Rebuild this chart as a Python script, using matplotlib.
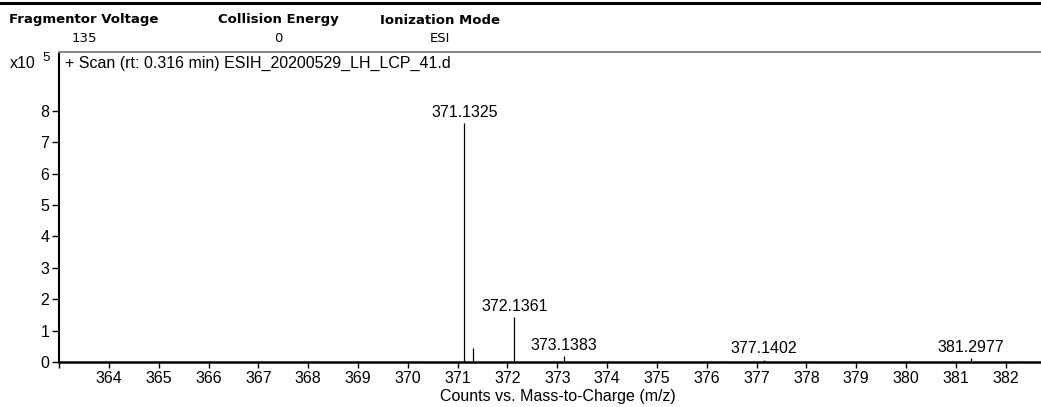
import matplotlib.pyplot as plt
from matplotlib.lines import Line2D

plt.rcParams['font.family'] = ['Liberation Sans', 'DejaVu Sans']

# scan header
header_names = ["Fragmentor Voltage", "Collision Energy", "Ionization Mode"]
header_values = ["135", "0", "ESI"]
scan_title = "+ Scan (rt: 0.316 min) ESIH_20200529_LH_LCP_41.d"

# centroid peaks (m/z, counts)
mz = [368.21, 370.18, 371.1325, 371.30, 372.1361, 373.1383, 374.12,
      376.33, 377.1402, 378.14, 381.2977, 382.27]
counts = [2000, 3000, 760000, 43000, 143000, 18000, 2000,
          3000, 7000, 2000, 12000, 3000]
labeled = [371.1325, 372.1361, 373.1383, 377.1402, 381.2977]

scale = 1e5
W, H = 1041, 407
fig = plt.figure(figsize=(W / 100, H / 100), dpi=100)

def fx(px):
    return px / W

def fy(py):
    return 1 - py / H

ax = fig.add_axes([fx(59), fy(362), fx(1041 - 59), fy(52) - fy(362)])

ys = [c / scale for c in counts]
ax.vlines(mz, 0, ys, color='black', linewidth=0.9)
for m, y in zip(mz, ys):
    if m in labeled:
        ax.annotate(f"{m:.4f}", (m, y), xytext=(0, 2.5), textcoords='offset points',
                    ha='center', va='bottom', fontsize=11.5)

ax.set_xlim(362.997, 382.71)
ax.set_ylim(0, 9.87)

xt = list(range(363, 383))
ax.set_xticks(xt)
ax.set_xticklabels(['' if t == 363 else str(t) for t in xt])
ax.set_yticks(range(0, 9))
ax.tick_params(axis='x', length=4, width=1, pad=2.5, labelsize=11.5, direction='out')
ax.tick_params(axis='y', length=5, width=1, pad=2, labelsize=11.5, direction='out')

ax.spines['right'].set_visible(False)
ax.spines['left'].set_linewidth(1.5)
ax.spines['bottom'].set_linewidth(1.8)
ax.spines['top'].set_color('#8a8a8a')
ax.spines['top'].set_linewidth(1.5)

fig.text(fx(558), fy(397), "Counts vs. Mass-to-Charge (m/z)", ha='center', va='center', fontsize=11.5)

# header block
fig.add_artist(Line2D([0, 1], [fy(3), fy(3)], color='black', linewidth=2.2))
hx = [84, 278, 440]
for x, name, val in zip(hx, header_names, header_values):
    fig.text(fx(x), fy(20), name, ha='center', va='center', fontsize=9.5,
             fontweight='bold', family='DejaVu Sans')
    fig.text(fx(x), fy(38), val, ha='center', va='center', fontsize=9.5,
             family='DejaVu Sans')

fig.text(fx(10), fy(63), "x10", ha='left', va='center', fontsize=11.5)
fig.text(fx(42), fy(58), "5", ha='left', va='center', fontsize=9.5)
fig.text(fx(65), fy(63), scan_title, ha='left', va='center', fontsize=11.5)

fig.savefig("out.png", dpi=100)
